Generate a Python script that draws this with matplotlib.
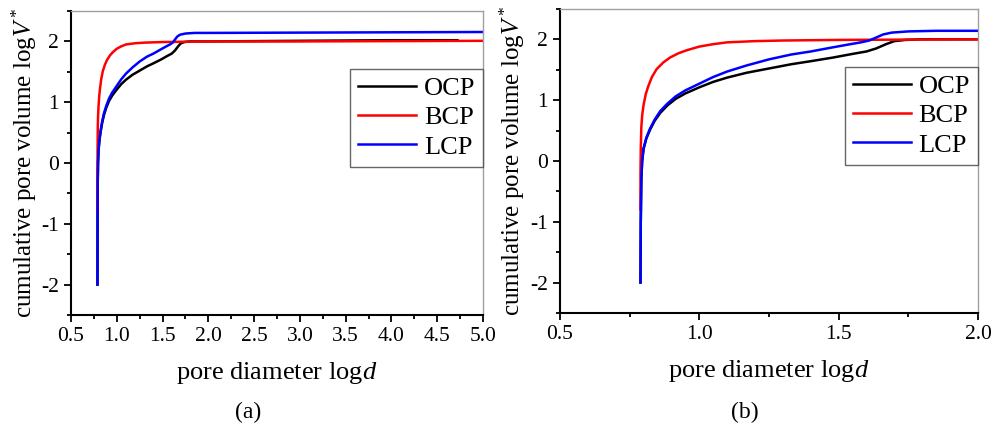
import numpy as np
import matplotlib.pyplot as plt
from matplotlib.ticker import MultipleLocator

plt.rcParams['font.family'] = ['Liberation Serif', 'DejaVu Serif']
plt.rcParams['mathtext.fontset'] = 'custom'
plt.rcParams['mathtext.rm'] = 'Liberation Serif'
plt.rcParams['mathtext.it'] = 'Liberation Serif:italic'
plt.rcParams['axes.unicode_minus'] = False

# pore diameter logd / cumulative pore volume logV*
ocp_x = [0.789, 0.790, 0.792, 0.795, 0.800, 0.810, 0.823, 0.840, 0.860, 0.885, 0.915,
         0.95, 1.0, 1.05, 1.10, 1.17, 1.25, 1.33, 1.40, 1.48, 1.55, 1.60, 1.635, 1.67,
         1.70, 1.74, 1.80, 2.0, 3.0, 4.0, 4.72]
ocp_y = [-2.0, -1.0, -0.3, 0.0, 0.20, 0.37, 0.51, 0.66, 0.79, 0.91, 1.02,
         1.11, 1.21, 1.30, 1.37, 1.45, 1.52, 1.59, 1.64, 1.70, 1.76, 1.80, 1.85, 1.92,
         1.97, 1.99, 2.0, 2.0, 2.01, 2.02, 2.02]

bcp_x = [0.789, 0.789, 0.790, 0.792, 0.795, 0.800, 0.808, 0.817, 0.830, 0.847, 0.871,
         0.895, 0.925, 0.955, 1.0, 1.05, 1.10, 1.20, 1.30, 1.50, 2.0, 3.0, 4.0, 5.0]
bcp_y = [-0.8, -0.2, 0.2, 0.55, 0.75, 0.92, 1.10, 1.23, 1.38, 1.51, 1.62,
         1.70, 1.77, 1.82, 1.88, 1.92, 1.95, 1.97, 1.98, 1.99, 2.0, 2.0, 2.005, 2.01]

lcp_x = [0.789, 0.790, 0.792, 0.795, 0.800, 0.810, 0.823, 0.840, 0.860, 0.885, 0.915,
         0.95, 1.0, 1.05, 1.10, 1.17, 1.25, 1.33, 1.40, 1.47, 1.53, 1.58, 1.61, 1.635,
         1.66, 1.69, 1.75, 1.85, 2.0, 3.0, 4.0, 5.0]
lcp_y = [-2.0, -1.0, -0.3, 0.0, 0.20, 0.38, 0.53, 0.68, 0.82, 0.94, 1.06,
         1.16, 1.27, 1.38, 1.47, 1.57, 1.67, 1.75, 1.80, 1.86, 1.91, 1.95, 1.98, 2.03,
         2.08, 2.11, 2.13, 2.14, 2.14, 2.145, 2.15, 2.155]

fig = plt.figure(figsize=(9.96, 4.24), dpi=100)
ax_a = fig.add_axes([0.0713, 0.257, 0.4137, 0.717])
ax_b = fig.add_axes([0.5622, 0.262, 0.4197, 0.717])

panels = [(ax_a, (0.5, 5.0), 0.5, 0.25), (ax_b, (0.5, 2.0), 0.5, 0.25)]
for ax, xlim, major, minor in panels:
    ax.plot(ocp_x, ocp_y, color='black', lw=1.8, label='OCP')
    ax.plot(bcp_x, bcp_y, color='#ff0000', lw=1.8, label='BCP')
    ax.plot(lcp_x, lcp_y, color='#0000ff', lw=1.8, label='LCP')
    ax.set_xlim(*xlim)
    ax.set_ylim(-2.5, 2.5)
    ax.xaxis.set_major_locator(MultipleLocator(major))
    ax.xaxis.set_minor_locator(MultipleLocator(minor))
    ax.yaxis.set_major_locator(MultipleLocator(1))
    ax.yaxis.set_minor_locator(MultipleLocator(0.5))
    ax.xaxis.set_major_formatter(plt.FormatStrFormatter('%.1f'))
    ax.tick_params(which='both', direction='out', top=False, right=False,
                   labelsize=15.5, width=1.3, color='black')
    ax.tick_params(which='major', length=5)
    ax.tick_params(which='minor', length=3)
    for s in ['left', 'bottom']:
        ax.spines[s].set_linewidth(1.5)
        ax.spines[s].set_color('black')
    for s in ['top', 'right']:
        ax.spines[s].set_linewidth(1.0)
        ax.spines[s].set_color('#a0a0a0')
    ax.set_xlabel('pore diameter log$d$', fontsize=19, labelpad=10)
    ax.set_ylabel('cumulative pore volume log$V^*$', fontsize=18, labelpad=2)
    leg = ax.legend(loc='upper right', bbox_to_anchor=(1.0, 0.81), borderaxespad=0,
                    fontsize=19, handlelength=2.2, frameon=True, fancybox=False,
                    edgecolor='#404040', handletextpad=0.3, labelspacing=0.22,
                    borderpad=0.3)
    leg.get_frame().set_linewidth(1.0)

fig.text(0.249, 0.028, '(a)', ha='center', va='center', fontsize=17)
fig.text(0.748, 0.028, '(b)', ha='center', va='center', fontsize=17)

fig.savefig('out.png', dpi=100)
